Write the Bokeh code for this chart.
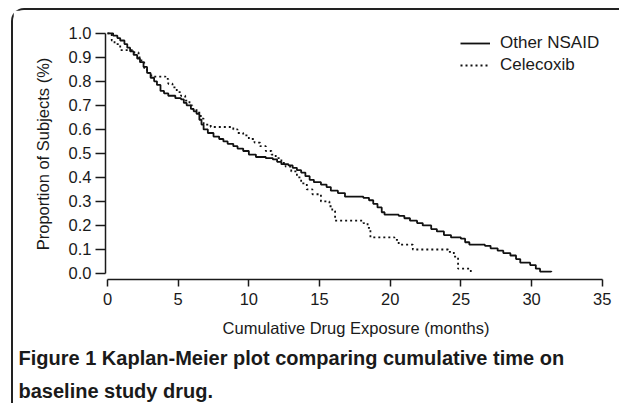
from bokeh.plotting import figure
from bokeh.models import (Range1d, FixedTicker, PrintfTickFormatter, Legend, LegendItem, Title)
from bokeh.embed import file_html
from bokeh.resources import INLINE

# ---- data ----
nsaid_t = [0, 0.4, 0.7, 0.9, 1.2, 1.4, 1.6, 1.85, 2.1, 2.3, 2.55, 2.8, 3.05, 3.3, 3.5, 3.75,
           4.0, 4.3, 4.8, 5.2, 5.4, 5.6, 5.9, 6.1, 6.3, 6.5, 6.65, 6.8, 7.1, 7.5, 7.9, 8.2,
           8.5, 8.9, 9.2, 9.6, 10.0, 10.5, 11.2, 11.7, 12.0, 12.3, 12.8, 13.1, 13.4, 13.7,
           14.0, 14.3, 14.6, 15.1, 15.5, 15.8, 16.3, 16.8, 18.1, 18.5, 18.8, 19.1, 19.4,
           19.6, 20.6, 21.0, 21.4, 21.9, 22.3, 22.9, 23.3, 23.8, 24.3, 25.0, 25.3, 25.6,
           26.7, 27.1, 27.6, 28.0, 28.5, 28.9, 29.2, 29.9, 30.3, 30.6, 31.4]
nsaid_s = [1.0, 0.99, 0.98, 0.97, 0.955, 0.94, 0.925, 0.91, 0.895, 0.88, 0.86, 0.835, 0.815,
           0.80, 0.785, 0.76, 0.75, 0.74, 0.73, 0.725, 0.71, 0.70, 0.685, 0.675, 0.665, 0.64,
           0.62, 0.60, 0.585, 0.57, 0.56, 0.55, 0.54, 0.53, 0.52, 0.51, 0.495, 0.485, 0.48,
           0.475, 0.465, 0.455, 0.45, 0.44, 0.43, 0.42, 0.405, 0.39, 0.38, 0.37, 0.36, 0.345,
           0.335, 0.32, 0.315, 0.305, 0.29, 0.275, 0.255, 0.245, 0.24, 0.23, 0.22, 0.21, 0.20,
           0.185, 0.175, 0.16, 0.15, 0.145, 0.13, 0.12, 0.115, 0.105, 0.095, 0.085, 0.075,
           0.06, 0.045, 0.035, 0.02, 0.008, 0.006]

celecoxib_t = [0, 0.3, 0.5, 0.9, 1.9, 2.2, 2.4, 2.6, 2.8, 3.1, 4.1, 4.3, 4.6, 4.9, 5.2, 5.5,
               5.8, 6.0, 6.3, 6.6, 6.8, 7.3, 8.9, 9.2, 9.6, 10.0, 10.4, 10.8, 11.2, 11.6,
               11.9, 12.3, 12.6, 13.0, 13.4, 13.7, 14.1, 14.5, 15.1, 15.7, 15.9, 16.1, 18.1,
               18.4, 18.6, 20.3, 20.6, 21.6, 24.1, 24.5, 24.8, 25.7]
celecoxib_s = [1.0, 0.97, 0.955, 0.93, 0.92, 0.90, 0.88, 0.855, 0.835, 0.82, 0.81, 0.79,
               0.775, 0.755, 0.74, 0.72, 0.70, 0.685, 0.67, 0.645, 0.62, 0.61, 0.60, 0.585,
               0.575, 0.56, 0.545, 0.53, 0.51, 0.495, 0.48, 0.46, 0.445, 0.425, 0.40, 0.375,
               0.35, 0.33, 0.30, 0.28, 0.26, 0.22, 0.21, 0.19, 0.15, 0.14, 0.12, 0.10, 0.09,
               0.07, 0.02, 0.0]

series_names = ["Other NSAID", "Celecoxib"]
x_ticks = [0, 5, 10, 15, 20, 25, 30, 35]
y_ticks = [0.0, 0.1, 0.2, 0.3, 0.4, 0.5, 0.6, 0.7, 0.8, 0.9, 1.0]
x_title = "Cumulative Drug Exposure (months)"
y_title = "Proportion of Subjects (%)"
caption_1 = "Figure 1 Kaplan-Meier plot comparing cumulative time on"
caption_2 = "baseline study drug."

FONT = "Liberation Sans"
INK = "#1a1a1a"

p = figure(width=608, height=395, output_backend="svg", toolbar_location=None,
           x_range=Range1d(-0.14, 35.3), y_range=Range1d(-0.025, 1.02),
           min_border_left=92, min_border_right=15, min_border_top=18, min_border_bottom=122,
           margin=(8, 0, 0, 11),
           styles={"border-top": "2px solid #222222", "border-left": "2px solid #222222",
                   "border-top-left-radius": "13px"})
p.outline_line_color = None
p.xgrid.visible = False
p.ygrid.visible = False
p.background_fill_color = "white"
p.border_fill_color = "white"

r1 = p.step(nsaid_t, nsaid_s, mode="after", line_color="#111111", line_width=1.8)
r2 = p.step(celecoxib_t, celecoxib_s, mode="after", line_color="#111111", line_width=1.8,
            line_dash="2 3")

for ax, ticks, bnds in ((p.xaxis[0], x_ticks, (0, 35)), (p.yaxis[0], y_ticks, (0, 1))):
    ax.ticker = FixedTicker(ticks=ticks)
    ax.bounds = bnds
    ax.axis_line_width = 1.5
    ax.axis_line_color = INK
    ax.major_tick_line_color = INK
    ax.major_tick_line_width = 1.5
    ax.minor_tick_line_color = None
    ax.major_tick_in = 0
    ax.major_label_text_font = FONT
    ax.major_label_text_font_size = "16.5px"
    ax.major_label_text_color = INK
    ax.axis_label_text_font = FONT
    ax.axis_label_text_font_size = "16.5px"
    ax.axis_label_text_font_style = "normal"
    ax.axis_label_text_color = INK

p.xaxis[0].major_tick_out = 7
p.xaxis[0].major_label_standoff = 6
p.xaxis[0].axis_label = x_title
p.xaxis[0].axis_label_standoff = 11
p.yaxis[0].major_tick_out = 10
p.yaxis[0].major_label_standoff = 4
p.yaxis[0].formatter = PrintfTickFormatter(format="%.1f")
p.yaxis[0].axis_label = y_title
p.yaxis[0].axis_label_standoff = 14

legend = Legend(items=[LegendItem(label=series_names[0], renderers=[r1]),
                       LegendItem(label=series_names[1], renderers=[r2])],
                location=(355, 203), padding=0, margin=0, spacing=0,
                label_height=22, glyph_height=22, glyph_width=30, label_standoff=10,
                border_line_alpha=0, background_fill_alpha=0,
                label_text_font=FONT, label_text_font_size="17px",
                label_text_color=INK)
p.add_layout(legend)

for txt, gap in ((caption_1, 10), (caption_2, 8)):
    p.add_layout(Title(text=txt, align="left", offset=-87, standoff=gap,
                       text_font=FONT, text_font_style="bold",
                       text_font_size="20px", text_color=INK), "below")

open("out.html", "w").write(file_html(p, INLINE))
